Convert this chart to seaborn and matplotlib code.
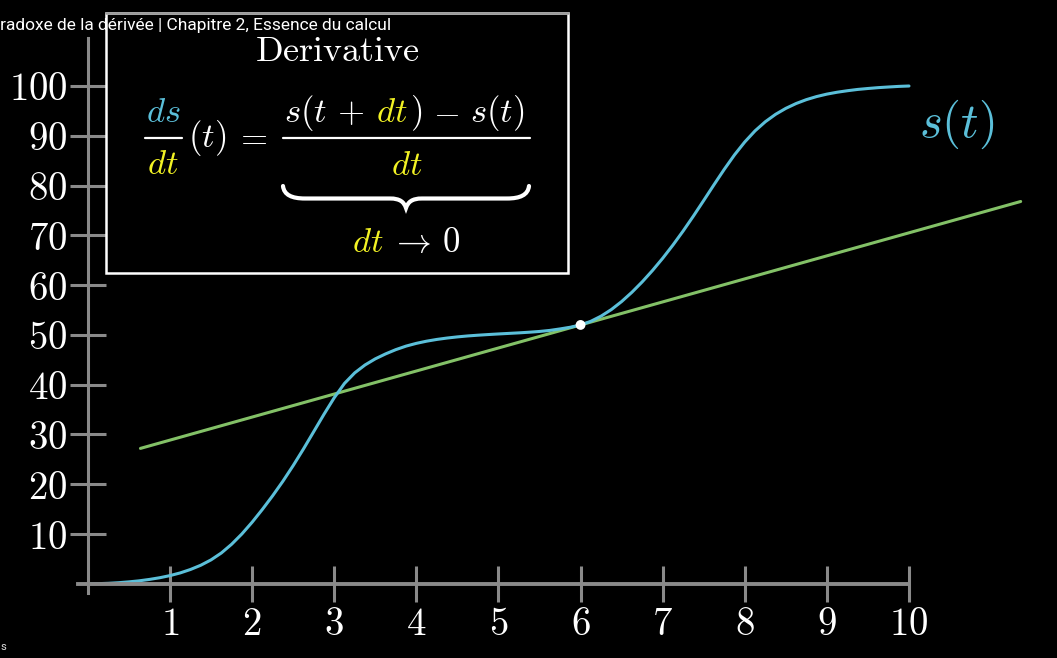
import matplotlib
matplotlib.use("Agg")
import matplotlib.pyplot as plt
from matplotlib.path import Path
from matplotlib.patches import PathPatch, Rectangle
from matplotlib.lines import Line2D
import seaborn as sns

# s(t), every eighth of a second
t_values = [0, 0.125, 0.25, 0.375, 0.5, 0.625, 0.75, 0.875,
            1, 1.125, 1.25, 1.375, 1.5, 1.625, 1.75, 1.875,
            2, 2.125, 2.25, 2.375, 2.5, 2.625, 2.75, 2.875,
            3, 3.125, 3.25, 3.375, 3.5, 3.625, 3.75, 3.875,
            4, 4.125, 4.25, 4.375, 4.5, 4.625, 4.75, 4.875,
            5, 5.125, 5.25, 5.375, 5.5, 5.625, 5.75, 5.875,
            6, 6.125, 6.25, 6.375, 6.5, 6.625, 6.75, 6.875,
            7, 7.125, 7.25, 7.375, 7.5, 7.625, 7.75, 7.875,
            8, 8.125, 8.25, 8.375, 8.5, 8.625, 8.75, 8.875,
            9, 9.125, 9.25, 9.375, 9.5, 9.625, 9.75, 9.875, 10]
s_values = [0, 0.03, 0.1, 0.22, 0.39, 0.6, 0.88, 1.22,
            1.65, 2.19, 2.88, 3.73, 4.81, 6.19, 7.94, 10.01,
            12.37, 14.95, 17.69, 20.61, 23.75, 27.08, 30.56, 34.05,
            37.38, 40.26, 42.38, 43.96, 45.19, 46.18, 47.04, 47.75,
            48.30, 48.74, 49.09, 49.37, 49.60, 49.79, 49.94, 50.07,
            50.19, 50.30, 50.41, 50.54, 50.69, 50.90, 51.20, 51.54,
            52.0, 52.73, 53.77, 55.09, 56.7, 58.56, 60.64, 62.92,
            65.39, 68.05, 70.89, 73.89, 77.01, 80.17, 83.26, 86.17,
            88.76, 90.99, 92.82, 94.31, 95.51, 96.48, 97.26, 97.88,
            98.37, 98.75, 99.05, 99.31, 99.5, 99.67, 99.8, 99.92, 100]

# tangent line at t = 6
tangent_t = [0.64, 11.36]
tangent_s = [27.2, 76.8]
point_t = [6]
point_s = [52]

x_ticks = [1, 2, 3, 4, 5, 6, 7, 8, 9, 10]
y_ticks = [10, 20, 30, 40, 50, 60, 70, 80, 90, 100]

W, H = 1057, 658
BLUE = "#5BBFD9"
YELLOW = "#F2F224"
GREEN = "#83C167"
GREY = "#8A8A8A"

sns.set_theme(style="dark", rc={"axes.facecolor": "black", "figure.facecolor": "black"})
plt.rcParams["mathtext.fontset"] = "cm"
plt.rcParams["font.family"] = ["Roboto", "DejaVu Sans"]

fig = plt.figure(figsize=(W / 100, H / 100), dpi=100)
ax = fig.add_axes([0, 0, 1, 1])
ax.set_xlim((0 - 87.9) / 82.11, (W - 87.9) / 82.11)
ax.set_ylim((583.8 - H) / 4.978, 583.8 / 4.978)

sns.lineplot(x=tangent_t, y=tangent_s, ax=ax, color=GREEN, linewidth=2.2)
sns.lineplot(x=t_values, y=s_values, ax=ax, color=BLUE, linewidth=2.2)
sns.scatterplot(x=point_t, y=point_s, ax=ax, color="white", s=50, edgecolor="none", zorder=5)

ax.grid(False)
ax.set_xlabel("")
ax.set_ylabel("")
for side in ["top", "right"]:
    ax.spines[side].set_visible(False)
ax.spines["left"].set_position(("data", 0))
ax.spines["bottom"].set_position(("data", 0))
ax.spines["left"].set_bounds(-1.9, 109.6)
ax.spines["bottom"].set_bounds(-0.12, 10)
ax.spines["left"].set_color(GREY)
ax.spines["bottom"].set_color(GREY)
ax.spines["left"].set_linewidth(2.2)
ax.spines["bottom"].set_linewidth(2.8)

ax.set_xticks(x_ticks, [f"${v}$" for v in x_ticks])
ax.set_yticks(y_ticks, [f"${v}$" for v in y_ticks])
ax.tick_params(bottom=True, left=True, direction="inout", length=26, width=2.2,
               color=GREY, labelcolor="white", labelsize=28)
ax.tick_params(axis="x", pad=3)
ax.tick_params(axis="y", pad=1.5)


def px(x, y):
    return x / W, 1 - y / H


def put(x, y, s, color="white", size=25, ha="left"):
    fig.text(*px(x, y), s, color=color, fontsize=size, ha=ha, va="baseline", zorder=4)


def hline(x0, x1, y, color="white", lw=1.6):
    fig.add_artist(Line2D([x0 / W, x1 / W], [1 - y / H, 1 - y / H], color=color,
                          linewidth=lw, transform=fig.transFigure, zorder=4))


# definition box
box = Rectangle(px(106, 273.3), 462.3 / W, 260 / H, transform=fig.transFigure,
                facecolor="black", edgecolor="white", linewidth=1.8, zorder=2)
fig.add_artist(box)
hline(106, 568.3, 13.3, color="#9A9A9A", lw=1.8)

put(337, 60.7, r"$\mathrm{Derivative}$", size=26, ha="center")

put(163, 122, r"$ds$", color=BLUE, ha="center")
hline(145, 182, 137.5)
put(163, 174, r"$dt$", color=YELLOW, ha="center")
put(188, 147, r"$(t)$")
put(251, 147, r"$=$", ha="center")

put(284, 122, r"$s(t$")
put(351, 122, r"$+$", ha="center")
put(376, 122, r"$dt$", color=YELLOW)
put(410, 122, r"$)$")
put(446.5, 122, r"$-$", ha="center")
put(470, 122, r"$s(t)$")
hline(283, 530, 138.3)
put(407, 175, r"$dt$", color=YELLOW, ha="center")

# brace under the fraction
verts = [(283, 186), (284, 195), (292, 198.5), (305, 198.5), (390, 198.5),
         (400, 198.5), (404, 202), (406, 208),
         (408, 202), (412, 198.5), (422, 198.5), (507, 198.5),
         (520, 198.5), (528, 195), (529, 186)]
codes = [Path.MOVETO, Path.CURVE4, Path.CURVE4, Path.CURVE4, Path.LINETO,
         Path.CURVE4, Path.CURVE4, Path.CURVE4,
         Path.CURVE4, Path.CURVE4, Path.CURVE4, Path.LINETO,
         Path.CURVE4, Path.CURVE4, Path.CURVE4]
brace = PathPatch(Path([px(x, y) for x, y in verts], codes), transform=fig.transFigure,
                  facecolor="none", edgecolor="white", linewidth=3.0,
                  capstyle="round", zorder=4)
fig.add_artist(brace)

put(352, 252, r"$dt$", color=YELLOW)
put(410, 252, r"$\rightarrow$", ha="center")
put(451.5, 252, r"$0$", ha="center")

put(919, 137, r"$s(t)$", color=BLUE, size=35)

fig.text(0, 1 - 30 / H, "radoxe de la dérivée | Chapitre 2, Essence du calcul",
         color="white", fontsize=12.5, ha="left", va="baseline", zorder=4)
fig.text(0, 1 - 650 / H, "s", color="#DDDDDD", fontsize=8, ha="left", va="baseline")

fig.savefig("out.png", dpi=100, facecolor="black")
